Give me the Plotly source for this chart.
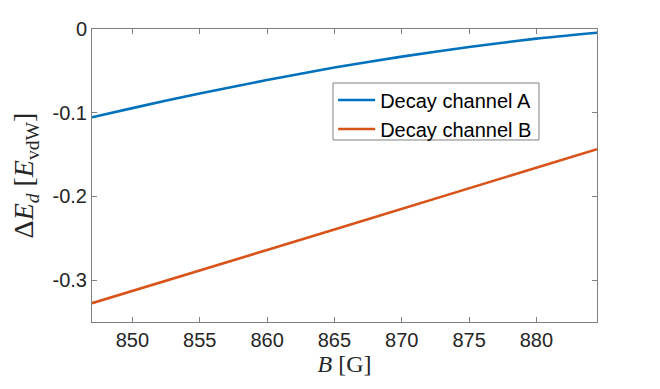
import plotly.graph_objects as go

B = [847, 850, 855, 860, 865, 870, 875, 880, 884.5]
channel_A = [-0.1055, -0.0945, -0.077, -0.061, -0.046, -0.033, -0.0215, -0.0115, -0.0045]
channel_B = [-0.3275, -0.313, -0.2885, -0.264, -0.2395, -0.215, -0.1905, -0.166, -0.1435]
series_names = ["Decay channel A", "Decay channel B"]
x_ticks = [850, 855, 860, 865, 870, 875, 880]
y_ticks = [0, -0.1, -0.2, -0.3]
y_tick_labels = ["0", "-0.1", "-0.2", "-0.3"]

fig = go.Figure()
fig.add_trace(go.Scatter(x=B, y=channel_A, mode="lines", name=series_names[0],
                         line=dict(color="#0072BD", width=2.6, shape="spline", smoothing=0.6)))
fig.add_trace(go.Scatter(x=B, y=channel_B, mode="lines", name=series_names[1],
                         line=dict(color="#D95319", width=2.6)))

axis_common = dict(showline=True, linecolor="#808080", linewidth=1, mirror="ticks",
                   ticks="inside", ticklen=5, tickcolor="#808080", tickwidth=1,
                   showgrid=False, zeroline=False, automargin=False,
                   tickfont=dict(family="Liberation Sans, Arial, sans-serif", size=20, color="#262626"))

fig.update_xaxes(range=[847, 884.5], tickvals=x_ticks, ticktext=[str(v) for v in x_ticks],
                 title=dict(text="<i>B</i> [G]", font=dict(family="Liberation Serif, serif", size=24, color="#262626"),
                            standoff=1),
                 **axis_common)
fig.update_yaxes(range=[-0.35, 0], tickvals=y_ticks, ticktext=y_tick_labels,
                 title=dict(text="Δ<i>E</i><sub><i>d</i></sub> [<i>E</i><sub>vdW</sub>]",
                            font=dict(family="Liberation Serif, serif", size=28, color="#262626"),
                            standoff=10),
                 **axis_common)

# legend frame (MATLAB-style box)
fig.add_shape(type="rect", xref="paper", yref="paper",
              x0=0.4772, x1=0.8851, y0=0.6212, y1=0.8157,
              line=dict(color="#808080", width=1), fillcolor="white", layer="above")

fig.update_layout(
    width=652, height=381,
    margin=dict(l=84, r=63, t=21, b=67),
    plot_bgcolor="white", paper_bgcolor="white",
    showlegend=True,
    legend=dict(x=0.4775, y=0.824, xanchor="left", yanchor="top",
                borderwidth=0, bgcolor="rgba(0,0,0,0)",
                font=dict(family="Liberation Sans, Arial, sans-serif", size=20, color="#000000"),
                tracegroupgap=0, itemwidth=37),
)

fig.write_html("out.html")
